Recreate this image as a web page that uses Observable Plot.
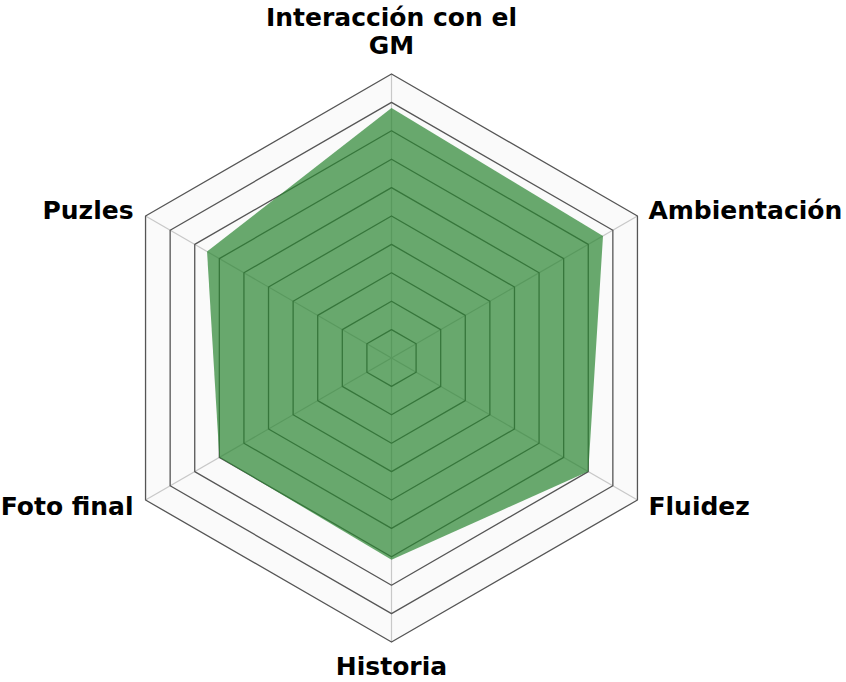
<!DOCTYPE html>
<html>
<head>
<meta charset="utf-8">
<script src="https://cdn.jsdelivr.net/npm/d3@7"></script>
<script src="https://cdn.jsdelivr.net/npm/@observablehq/plot@0.6"></script>
<style>
  html, body { margin: 0; padding: 0; background: #fff; }
  svg { overflow: visible; }
</style>
</head>
<body>
<div id="chart"></div>
<script>
const axes = ["Interacción con el GM", "Ambientación", "Fluidez", "Historia", "Foto final", "Puzles"];
const axisLabels = ["Interacción con el\nGM", "Ambientación", "Fluidez", "Historia", "Foto final", "Puzles"];
const values = [8.8, 8.6, 8.0, 7.1, 7.0, 7.5];
const levels = [1, 2, 3, 4, 5, 6, 7, 8, 9, 10];
const maxValue = 10;

const n = axes.length;
const ang = i => (i * 2 * Math.PI) / n;
const px = (r, i) => r * Math.sin(ang(i));
const py = (r, i) => r * Math.cos(ang(i));

const rings = levels.flatMap(l => axes.map((a, i) => ({level: l, x: px(l, i), y: py(l, i)})));
const outer = axes.map((a, i) => ({x: px(maxValue, i), y: py(maxValue, i)}));
const spokes = axes.map((a, i) => ({x2: px(maxValue, i), y2: py(maxValue, i)}));
const dataPts = values.map((v, i) => ({axis: axes[i], x: px(v, i), y: py(v, i)}));
const labelPts = axisLabels.map((t, i) => ({text: t, i, x: px(maxValue, i), y: py(maxValue, i)}));

const font = {fontSize: 25, fontWeight: "bold", fill: "#000", fontFamily: "DejaVu Sans, Verdana, sans-serif", lineHeight: 1.14};

const chart = Plot.plot({
  width: 846,
  height: 682,
  marginLeft: 107,
  marginRight: 171,
  marginTop: 73.5,
  marginBottom: 40.5,
  x: {domain: [-maxValue, maxValue], axis: null},
  y: {domain: [-maxValue, maxValue], axis: null},
  style: {background: "#fff", overflow: "visible"},
  marks: [
    Plot.line(outer, {x: "x", y: "y", curve: "linear-closed", fill: "#fafafa", stroke: "none"}),
    Plot.link(spokes, {x1: 0, y1: 0, x2: "x2", y2: "y2", stroke: "#c8c8c8", strokeWidth: 1.2}),
    Plot.line(rings, {x: "x", y: "y", z: "level", curve: "linear-closed", stroke: "#555555", strokeWidth: 1.3}),
    Plot.line(dataPts, {x: "x", y: "y", curve: "linear-closed", fill: "#2a8530", fillOpacity: 0.7, stroke: "none"}),
    Plot.text(labelPts.filter(d => d.i === 0), {x: "x", y: "y", text: "text", textAnchor: "middle", lineAnchor: "bottom", dy: -20, ...font}),
    Plot.text(labelPts.filter(d => d.i === 3), {x: "x", y: "y", text: "text", textAnchor: "middle", lineAnchor: "top", dy: 13, ...font}),
    Plot.text(labelPts.filter(d => d.i === 1), {x: "x", y: "y", text: "text", textAnchor: "start", lineAnchor: "middle", dx: 11, dy: -6, ...font}),
    Plot.text(labelPts.filter(d => d.i === 2), {x: "x", y: "y", text: "text", textAnchor: "start", lineAnchor: "middle", dx: 11, dy: 6, ...font}),
    Plot.text(labelPts.filter(d => d.i === 4), {x: "x", y: "y", text: "text", textAnchor: "end", lineAnchor: "middle", dx: -12, dy: 6, ...font}),
    Plot.text(labelPts.filter(d => d.i === 5), {x: "x", y: "y", text: "text", textAnchor: "end", lineAnchor: "middle", dx: -12, dy: -6, ...font})
  ]
});
document.getElementById("chart").appendChild(chart);
</script>
</body>
</html>
